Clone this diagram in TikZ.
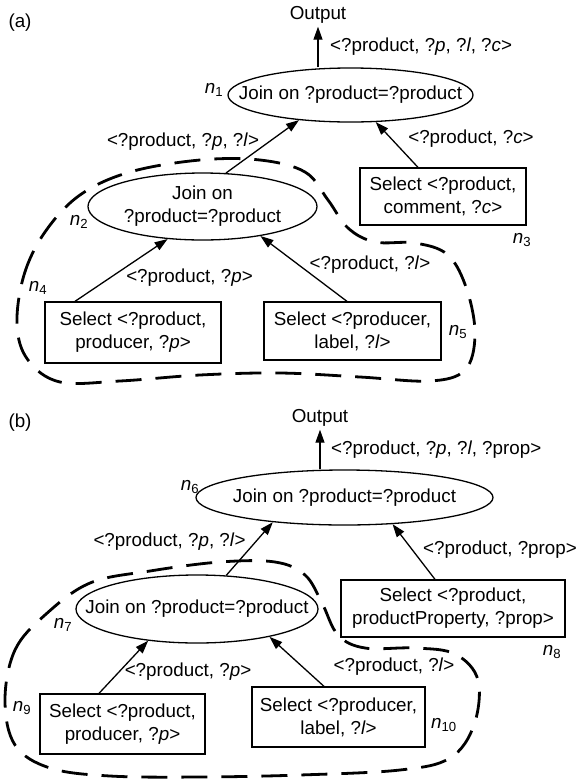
\documentclass[tikz,border=0pt]{standalone}
\usepackage{fontspec}
\setmainfont{Liberation Sans}
\usetikzlibrary{arrows.meta,shapes.geometric,calc}
\begin{document}
\begin{tikzpicture}[x=1pt,y=-1pt,
  every node/.style={font=\fontsize{18.8}{23}\selectfont},
  txt/.style={inner sep=0pt},
  joinnode/.style={ellipse,draw,line width=1.3pt,inner sep=0pt},
  selbox/.style={rectangle,draw,line width=1.3pt,inner sep=0pt,align=center},
  flow/.style={-{Triangle[length=13pt,width=9pt]},line width=1.3pt},
  group/.style={dash pattern=on 26pt off 14pt,line width=2.8pt}
]
\useasboundingbox (0,0) rectangle (578,780);
% ---------- (a)
\node[txt] (la) at (20,23) {(a)};
\node[txt] (out1) at (318,15) {Output};
\node[joinnode,minimum width=245pt,minimum height=54pt] (n1) at (350.5,95) {\makebox[0pt]{Join on ?product=?product}};
\node[selbox,minimum width=166pt,minimum height=57pt] (n3) at (443,196.5) {Select <?product,\\comment, ?\textit{c}>};
\node[joinnode,minimum width=229pt,minimum height=67pt] (n2) at (202.5,206.5) {\makebox[0pt]{\begin{tabular}{@{}c@{}}Join on\\?product=?product\end{tabular}}};
\node[selbox,minimum width=176pt,minimum height=61pt] (n4) at (133,332.5) {Select <?product,\\producer, ?\textit{p}>};
\node[selbox,minimum width=177pt,minimum height=58pt] (n5) at (352.5,331) {Select <?producer,\\label, ?\textit{l}>};

\node[txt] (ln1) at (214,90) {\textit{n}\textsubscript{1}};
\node[txt] (ln2) at (79,222) {\textit{n}\textsubscript{2}};
\node[txt] (ln3) at (522,240) {\textit{n}\textsubscript{3}};
\node[txt] (ln4) at (38,288) {\textit{n}\textsubscript{4}};
\node[txt] (ln5) at (458,332) {\textit{n}\textsubscript{5}};

\node[txt,anchor=west] (t1) at (330,47) {<?product, ?\textit{p}, ?\textit{l}, ?\textit{c}>};
\node[txt] (t2) at (183,142) {<?product, ?\textit{p}, ?\textit{l}>};
\node[txt] (t3) at (471,139) {<?product, ?\textit{c}>};
\node[txt] (t4) at (189.5,278) {<?product, ?\textit{p}>};
\node[txt] (t5) at (370,265) {<?product, ?\textit{l}>};

\draw[flow,shorten >=3pt] (n1.north -| out1.south) -- (out1.south);
\draw[flow] (n2.55) -- (n1.206);
\draw[flow] ([xshift=-25pt]n3.north) -- (n1.313);
\draw[flow] ([xshift=-58pt]n4.north) -- (n2.223);
\draw[flow] ([xshift=-5.5pt]n5.north) -- (n2.333);

\draw[group] plot[smooth cycle, tension=0.6] coordinates {
 (17,325) (24,275) (45,232) (80,195) (130,172) (200,160) (260,160) (305,172)
 (328,200) (348,228) (375,242) (415,243) (448,255) (467,290) (475,335) (465,370)
 (430,381) (360,377) (280,373) (200,375) (120,381) (60,382) (28,360)};

% ---------- (b)
\node[txt] (lb) at (20,423) {(b)};
\node[txt] (out2) at (320,418) {Output};
\node[joinnode,minimum width=297pt,minimum height=55pt] (n6) at (344.5,497.5) {\makebox[0pt]{Join on ?product=?product}};
\node[joinnode,minimum width=242pt,minimum height=68pt] (n7) at (197,609) {\makebox[0pt]{Join on ?product=?product}};
\node[selbox,minimum width=224pt,minimum height=57pt] (n8) at (453,608.5) {Select <?product,\\productProperty, ?prop>};
\node[selbox,minimum width=165pt,minimum height=60pt] (n9) at (122.5,724) {Select <?product,\\producer, ?\textit{p}>};
\node[selbox,minimum width=173pt,minimum height=60pt] (n10) at (338.5,717) {Select <?producer,\\label, ?\textit{l}>};

\node[txt] (ln6) at (190,487) {\textit{n}\textsubscript{6}};
\node[txt] (ln7) at (63,625) {\textit{n}\textsubscript{7}};
\node[txt] (ln8) at (552,652) {\textit{n}\textsubscript{8}};
\node[txt] (ln9) at (22,708) {\textit{n}\textsubscript{9}};
\node[txt] (ln10) at (444,725) {\textit{n}\textsubscript{10}};

\node[txt,anchor=west] (t6) at (331,450) {<?product, ?\textit{p}, ?\textit{l}, ?prop>};
\node[txt] (t7) at (169.5,542) {<?product, ?\textit{p}, ?\textit{l}>};
\node[txt,anchor=west] (t8) at (423,550) {<?product, ?prop>};
\node[txt] (t9) at (188,672) {<?product, ?\textit{p}>};
\node[txt] (t10) at (394,667) {<?product, ?\textit{l}>};

\draw[flow,shorten >=3pt] (n6.north -| out2.south) -- (out2.south);
\draw[flow] (n7.49) -- (n6.199);
\draw[flow] ([xshift=-18pt]n8.north) -- (n6.331);
\draw[flow] ([xshift=-23.5pt]n9.north) -- (n7.213);
\draw[flow] ([xshift=-14.5pt]n10.north) -- (n7.339);

\draw[group] plot[smooth cycle, tension=0.6] coordinates {
 (5,700) (15,650) (45,615) (90,583) (150,571) (220,562) (275,562) (305,575)
 (322,603) (338,635) (365,648) (415,648) (455,654) (478,680) (474,725) (450,758)
 (400,770) (300,775) (200,777) (110,776) (50,768) (15,745)};
\end{tikzpicture}
\end{document}
